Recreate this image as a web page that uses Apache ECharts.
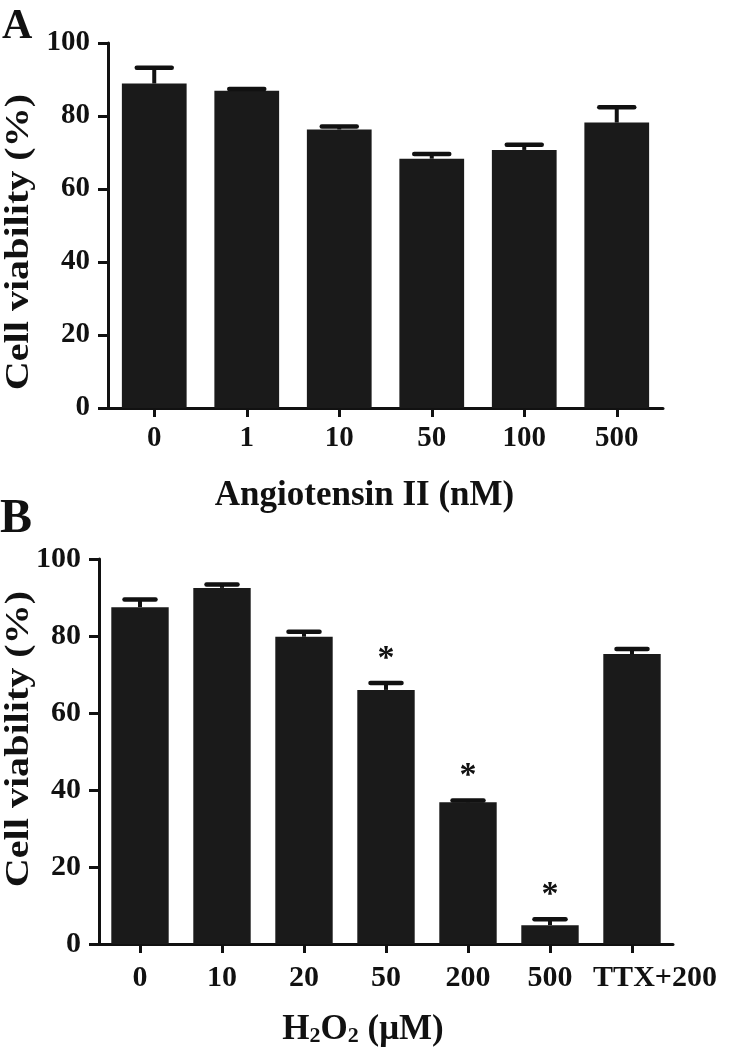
<!DOCTYPE html>
<html>
<head>
<meta charset="utf-8">
<script src="https://cdn.jsdelivr.net/npm/echarts@6/dist/echarts.min.js"></script>
<style>html,body{margin:0;padding:0;background:#fff}#c{width:731px;height:1050px}</style>
</head>
<body>
<div id="c"></div>
<script>
// Panel A data
const catsA = ['0', '1', '10', '50', '100', '500'];
const meanA = [88.9, 86.9, 76.3, 68.3, 70.7, 78.2];
const semA = [4.3, 0.5, 0.8, 1.3, 1.4, 4.2];
// Panel B data
const catsB = ['0', '10', '20', '50', '200', '500', 'TTX+200'];
const meanB = [87.5, 92.5, 79.8, 66.0, 36.8, 4.9, 75.3];
const semB = [2.0, 0.9, 1.3, 1.8, 0.5, 1.5, 1.3];
const sigB = [0, 0, 0, 1, 1, 1, 0];
const yTicks = [0, 20, 40, 60, 80, 100];
const yTitle = 'Cell viability (%)';

const FONT = "'Liberation Serif','Times New Roman',serif";
const INK = '#111';
const BAR = '#1a1a1a';

function axisY(idx, fs) {
  return {
    gridIndex: idx, type: 'value', min: yTicks[0], max: yTicks[yTicks.length - 1],
    interval: yTicks[1] - yTicks[0],
    axisLine: { show: true, lineStyle: { color: INK, width: 3 } },
    axisTick: { show: true, length: 10, lineStyle: { color: INK, width: 3 } },
    axisLabel: { margin: 18, fontFamily: FONT, fontWeight: 'bold', fontSize: fs, color: INK },
    splitLine: { show: false }
  };
}
function axisX(idx, cats, fs, margin, name, gap, pad) {
  const data = cats.map(c => c.length > 4
    ? { value: c, textStyle: { padding: [0, 0, 0, 46] } }
    : c);
  return {
    gridIndex: idx, type: 'category', data: data,
    name: name, nameLocation: 'middle', nameGap: gap,
    nameTextStyle: {
      fontFamily: FONT, fontWeight: 'bold', fontSize: 35, color: INK, padding: pad,
      rich: { sub: { fontFamily: FONT, fontWeight: 'bold', fontSize: 22, lineHeight: 22, verticalAlign: 'bottom', color: INK } }
    },
    axisLine: { show: true, onZero: false, lineStyle: { color: INK, width: 3 } },
    axisTick: { show: true, alignWithLabel: true, length: 9, lineStyle: { color: INK, width: 3 } },
    axisLabel: { margin: margin, fontFamily: FONT, fontWeight: 'bold', fontSize: fs, color: INK, interval: 0 }
  };
}
function errSeries(idx, means, sems, sigs) {
  return {
    type: 'custom', xAxisIndex: idx, yAxisIndex: idx, z: 5,
    data: means.map((m, i) => [i, m, m + sems[i], sigs ? sigs[i] : 0]),
    renderItem: function (params, api) {
      const i = api.value(0);
      const base = api.coord([i, api.value(1)]);
      const top = api.coord([i, api.value(2)]);
      const bw = api.size([1, 0])[0];
      const capW = bw * 0.7 * 0.54;
      const children = [
        { type: 'line', shape: { x1: base[0], y1: base[1], x2: top[0], y2: top[1] }, style: { stroke: INK, lineWidth: 4 } },
        { type: 'line', shape: { x1: top[0] - capW / 2, y1: top[1], x2: top[0] + capW / 2, y2: top[1] }, style: { stroke: INK, lineWidth: 4.5, lineCap: 'round' } }
      ];
      if (api.value(3)) {
        children.push({ type: 'text', x: top[0], y: top[1] - 24,
          style: { text: '*', fontFamily: FONT, fontWeight: 'bold', fontSize: 34, fill: INK, align: 'center', verticalAlign: 'middle' } });
      }
      return { type: 'group', children: children };
    }
  };
}
function yTitleText(cx, cy) {
  return { type: 'text', x: cx, y: cy, rotation: Math.PI / 2, scaleX: 1.18,
    style: { text: yTitle, fontFamily: FONT, fontWeight: 'bold', fontSize: 34, fill: INK, align: 'center', verticalAlign: 'middle' } };
}

const chart = echarts.init(document.getElementById('c'), null, { renderer: 'canvas' });
chart.setOption({
  animation: false,
  backgroundColor: '#fff',
  grid: [
    { left: 108, top: 43, width: 555, height: 365, outerBoundsMode: 'none', containLabel: false },
    { left: 99, top: 559, width: 574, height: 385, outerBoundsMode: 'none', containLabel: false }
  ],
  xAxis: [
    axisX(0, catsA, 29, 16, 'Angiotensin II (nM)', 70, [0, 42, 0, 0]),
    axisX(1, catsB, 30, 19, 'H{sub|2}O{sub|2} (μM)', 68, [0, 46, 0, 0])
  ],
  yAxis: [axisY(0, 29), axisY(1, 30)],
  series: [
    { type: 'bar', xAxisIndex: 0, yAxisIndex: 0, data: meanA, barCategoryGap: '30%', itemStyle: { color: BAR } },
    errSeries(0, meanA, semA, null),
    { type: 'bar', xAxisIndex: 1, yAxisIndex: 1, data: meanB, barCategoryGap: '30%', itemStyle: { color: BAR } },
    errSeries(1, meanB, semB, sigB)
  ],
  graphic: [
    { type: 'text', left: 2, top: 6, style: { text: 'A', fontFamily: FONT, fontWeight: 'bold', fontSize: 42, fill: INK } },
    { type: 'text', left: 0, top: 496, style: { text: 'B', fontFamily: FONT, fontWeight: 'bold', fontSize: 48, fill: INK } },
    yTitleText(19, 242),
    yTitleText(19, 739)
  ]
});
</script>
</body>
</html>
